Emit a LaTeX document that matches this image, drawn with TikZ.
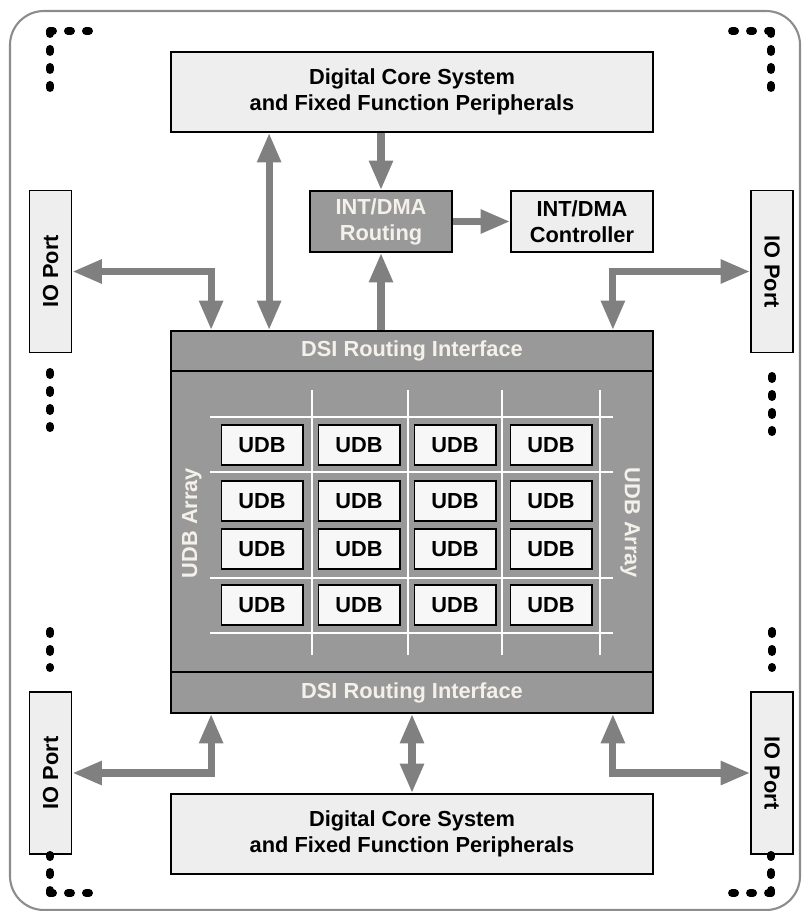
\documentclass[tikz,border=0pt]{standalone}
\usepackage{fontspec}
\setmainfont{Liberation Sans}
\usetikzlibrary{arrows.meta}
\definecolor{CoreGray}{HTML}{EEEEEE}
\definecolor{BlockGray}{HTML}{999999}
\definecolor{BusGray}{HTML}{808080}
\definecolor{FrameGray}{HTML}{8C8C8C}
\definecolor{LabelWhite}{HTML}{F4F1EA}

\begin{document}
\begin{tikzpicture}[x=0.025cm, y=-0.025cm,
    font=\fontsize{15.5}{18.5}\selectfont\bfseries,
    lightbox/.style={draw, line width=1.2pt, fill=CoreGray, align=center, inner sep=0pt},
    darkbox/.style={draw, line width=1.2pt, fill=BlockGray, text=LabelWhite, align=center, inner sep=0pt},
    udbbox/.style={draw, line width=1.4pt, fill=white!97!black, minimum width=2.025cm, minimum height=1cm, inner sep=0pt},
    ioport/.style={lightbox, minimum width=1.05cm, minimum height=4.05cm},
    bus/.style={draw=BusGray, line width=5pt, >={Triangle[length=21pt,width=16pt]}},
    dotline/.style={line width=5.7pt, line cap=round, dash pattern=on 2.1pt off 10.7pt},
    gridline/.style={white, line width=2pt}]
    \useasboundingbox (0,0) rectangle (801,911);
    \draw[FrameGray, line width=1.5pt, rounded corners=0.85cm] (10,11) rectangle (800,910);

    % core system blocks
    \node[lightbox, minimum width=12.05cm, minimum height=2cm] (coreTop) at (412,92) {Digital Core System\\and Fixed Function Peripherals};
    \node[lightbox, minimum width=12.05cm, minimum height=2cm] (coreBot) at (412,834) {Digital Core System\\and Fixed Function Peripherals};
    \node[darkbox, minimum width=3.55cm, minimum height=1.525cm] (routing) at (381,221.5) {INT/DMA\\Routing};
    \node[lightbox, minimum width=3.55cm, minimum height=1.525cm] (ctrl) at (582,221.5) {INT/DMA\\Controller};

    % io ports
    \node[ioport] (ioTL) at (50.5,271.5) {\rotatebox{90}{IO Port}};
    \node[ioport] (ioTR) at (772,271.5) {\rotatebox{-90}{IO Port}};
    \node[ioport] (ioBL) at (50.5,773) {\rotatebox{90}{IO Port}};
    \node[ioport] (ioBR) at (772,773) {\rotatebox{-90}{IO Port}};

    % udb array
    \node[darkbox, minimum width=12.05cm, minimum height=9.55cm] (array) at (412,522) {};
    \node[darkbox, minimum width=12.05cm, minimum height=1cm] (dsiTop) at (412,351) {DSI Routing Interface};
    \node[darkbox, minimum width=12.05cm, minimum height=1.025cm] (dsiBot) at (412,692.5) {DSI Routing Interface};
    \node[text=LabelWhite, rotate=90] (arrayL) at (192,523) {UDB Array};
    \node[text=LabelWhite, rotate=-90] (arrayR) at (630,523) {UDB Array};

    \foreach \x in {312,408,502,600}
        \draw[gridline] (\x,390) -- (\x,655);
    \foreach \y in {417,472,578,633}
        \draw[gridline] (210,\y) -- (613,\y);
    \foreach \r/\y in {1/445,2/501,3/549,4/605}
        \foreach \c/\x in {1/262,2/359,3/455,4/551}
            \node[udbbox] (udb\r\c) at (\x,\y) {UDB};

    % buses
    \draw[bus, <->] (ioTL.east) -| ([xshift=1.025cm]dsiTop.north west);
    \draw[bus, <->] ([xshift=2.475cm]coreTop.south west) -- ([xshift=2.475cm]dsiTop.north west);
    \draw[bus, ->] (routing.north |- coreTop.south) -- (routing.north);
    \draw[bus, ->] (routing.south |- dsiTop.north) -- (routing.south);
    \draw[bus, ->] (routing) -- (ctrl);
    \draw[bus, <->] (ioTR.west) -| ([xshift=-1.025cm]dsiTop.north east);
    \draw[bus, <->] (ioBL.east) -| ([xshift=1.025cm]dsiBot.south west);
    \draw[bus, <->] (dsiBot) -- (coreBot);
    \draw[bus, <->] (ioBR.west) -| ([xshift=-1.025cm]dsiBot.south east);

    % continuation dots
    \draw[dotline] (50,31) -- (50,88);
    \draw[dotline] (50,31) -- (93,31);
    \draw[dotline] (771,31) -- (771,92);
    \draw[dotline] (771,31) -- (728,31);
    \draw[dotline] (50,372) -- (50,428);
    \draw[dotline] (772,376) -- (772,432);
    \draw[dotline] (50,631) -- (50,668);
    \draw[dotline] (772,631) -- (772,668);
    \draw[dotline] (50,893) -- (50,855);
    \draw[dotline] (50,893) -- (93,893);
    \draw[dotline] (771,893) -- (771,855);
    \draw[dotline] (771,893) -- (728,893);
\end{tikzpicture}
\end{document}
